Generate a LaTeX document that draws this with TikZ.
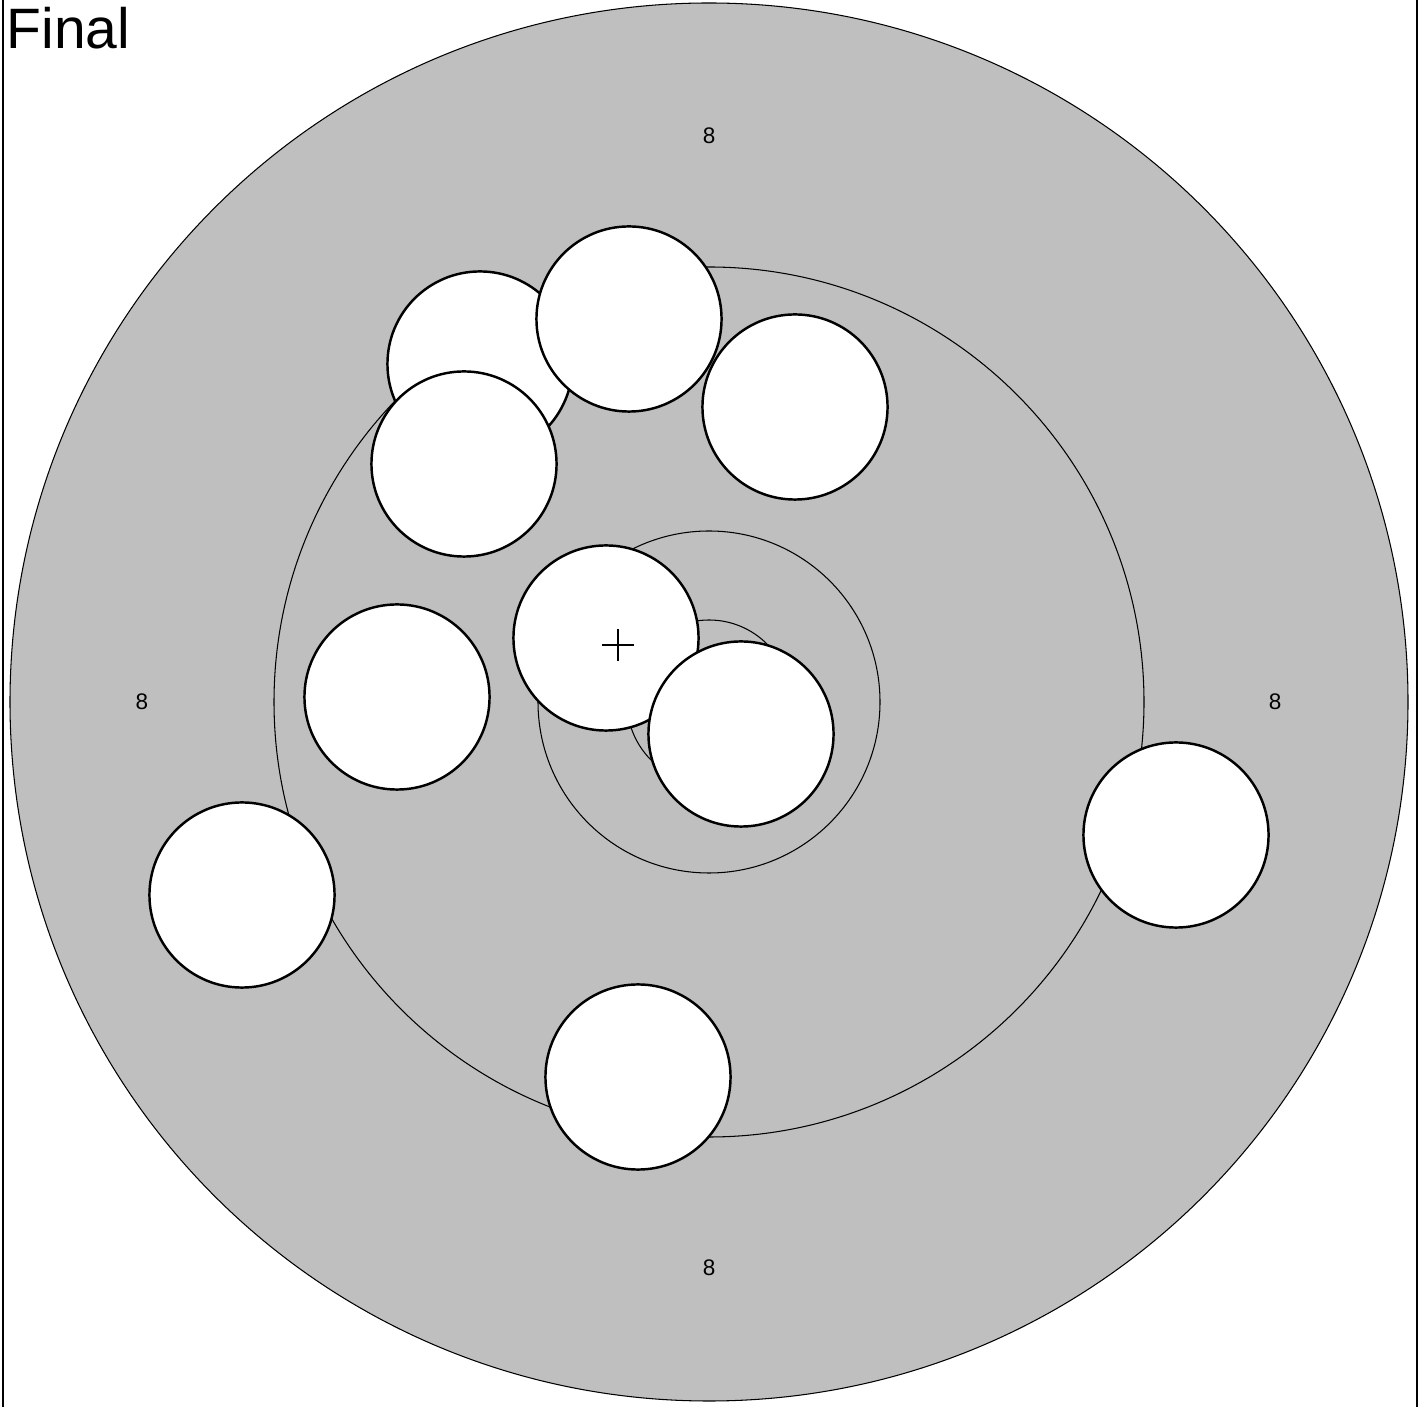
\documentclass[tikz,border=0pt]{standalone}
\usepackage{fontspec}
\setmainfont{Liberation Sans}
\usepackage{tikz}
\usetikzlibrary{positioning}

\begin{document}
\begin{tikzpicture}[
		x=0.01cm, y=-0.01cm
		,ring/.style={draw, line width=0.3pt}
		,hole/.style={circle, draw, fill=white, line width=0.7pt, inner sep=0pt, minimum size=1.85cm}
		,score/.style={inner sep=0pt, font=\fontsize{6.4pt}{7pt}\selectfont}
	]
		\useasboundingbox (0,0) rectangle (1424,1407);
		\draw [line width=0.6pt] (3,0) -- (3,1407);
		\draw [line width=0.6pt] (1417,0) -- (1417,1407);
		\coordinate (O) at (709,702);
		\fill [lightgray] (O) circle [radius=699];
		\draw [ring] (O) circle [radius=699];
		\draw [ring] (O) circle [radius=435];
		\draw [ring] (O) circle [radius=171];
		\draw [ring] (O) circle [radius=82];
		\node [score] (N) at (709,136) {8};
		\node [score] (W) at (142,702) {8};
		\node [score] (E) at (1275,702) {8};
		\node [score] (S) at (709,1268) {8};
		\node [anchor=base west, inner sep=0pt, font=\fontsize{16.2pt}{19pt}\selectfont] (T) at (6,49) {Final};
		\node [hole] (H1) at (480,364) {};
		\node [hole] (H2) at (629,319) {};
		\node [hole] (H3) at (795,407) {};
		\node [hole] (H4) at (464,464) {};
		\node [hole] (H5) at (606,638) {};
		\node [hole] (H6) at (741,734) {};
		\node [hole] (H7) at (397,697) {};
		\node [hole] (H8) at (242,895) {};
		\node [hole] (H9) at (1176,835) {};
		\node [hole] (H10) at (638,1077) {};
		\coordinate (C) at (618,645);
		\draw [line width=0.4pt] ([xshift=-0.16cm]C) -- ([xshift=0.16cm]C);
		\draw [line width=0.4pt] ([yshift=-0.16cm]C) -- ([yshift=0.16cm]C);
	\end{tikzpicture}
\end{document}
